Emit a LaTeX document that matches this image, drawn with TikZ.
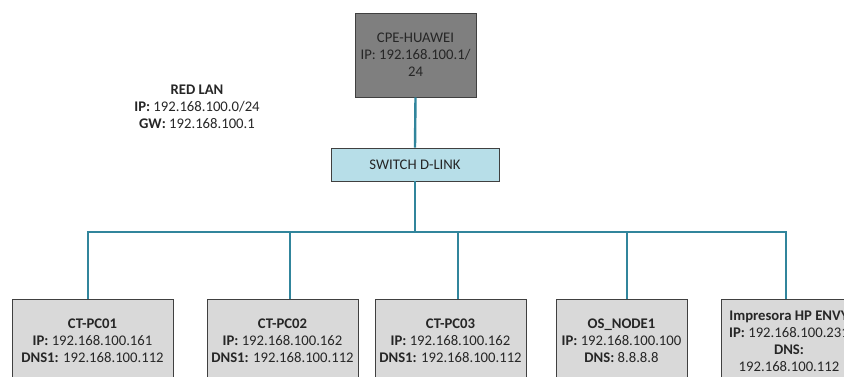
\documentclass[tikz,border=0pt]{standalone}
\usepackage{fontspec}
\setmainfont{Carlito}
\usepackage{xcolor}
\usepackage{tikz}
\usetikzlibrary{positioning}

\definecolor{cable}{HTML}{31859C}
\definecolor{edge}{HTML}{404040}
\definecolor{ink}{HTML}{262626}
\definecolor{routergray}{HTML}{7F7F7F}
\definecolor{switchblue}{HTML}{B7DEE8}
\definecolor{hostgray}{HTML}{D9D9D9}

\begin{document}
\begin{tikzpicture}[
				x=1pt, y=-1pt,
				font=\fontsize{14.7}{17}\selectfont,
				text=ink,
				routernode/.style={rectangle, draw=edge, fill=routergray, thick, align=center, minimum width=121pt, minimum height=84pt},
				switchnode/.style={rectangle, draw=edge, fill=switchblue, thick, align=center, minimum width=168pt, minimum height=33pt},
				hostnode/.style={rectangle, draw=edge, fill=hostgray, thick, align=center, minimum height=84pt},
				link/.style={draw=cable, line width=2.4pt},
				]
				\useasboundingbox (0,0) rectangle (844,376);
				\clip (0,0) rectangle (844,376);
				%Nodes
				\node[routernode](cpe) at (415.5,55){CPE-HUAWEI\\IP: 192.168.100.1/\\24};
				\node[switchnode](sw) at (415,164.5){SWITCH D-LINK};
				\node[align=center](lan) at (197,107){\textbf{RED LAN}\\\textbf{IP:} 192.168.100.0/24\\\textbf{GW:} 192.168.100.1};
				\node[hostnode, minimum width=161pt](pc1) at (92.5,341){\textbf{CT-PC01}\\\textbf{IP:} 192.168.100.161\\\textbf{DNS1:} 192.168.100.112};
				\node[hostnode, minimum width=151pt](pc2) at (282.5,341){\textbf{CT-PC02}\\\textbf{IP:} 192.168.100.162\\\textbf{DNS1:} 192.168.100.112};
				\node[hostnode, minimum width=151pt](pc3) at (450.5,341){\textbf{CT-PC03}\\\textbf{IP:} 192.168.100.162\\\textbf{DNS1:} 192.168.100.112};
				\node[hostnode, minimum width=131pt](node1) at (621.5,341){\textbf{OS\_NODE1}\\\textbf{IP:} 192.168.100.100\\\textbf{DNS:} 8.8.8.8};
				\node[hostnode, minimum width=136pt](printer) at (789,341){\textbf{Impresora HP ENVY}\\\textbf{IP:} 192.168.100.231\\\textbf{DNS:}\\192.168.100.112};
				
				%Lines
				\coordinate (bus) at (415,232);
				\draw[link] (cpe.south) -- (sw.north);
				\draw[link] (sw.south) -- (bus);
				\draw[link] ([xshift=-4.5pt]pc1.north) |- (bus) -| ([xshift=-3pt]printer.north);
				\draw[link] ([xshift=7.5pt]pc2.north) -- ([xshift=7.5pt]pc2.north |- bus);
				\draw[link] ([xshift=7.5pt]pc3.north) -- ([xshift=7.5pt]pc3.north |- bus);
				\draw[link] ([xshift=5.5pt]node1.north) -- ([xshift=5.5pt]node1.north |- bus);
				
			\end{tikzpicture}
\end{document}
